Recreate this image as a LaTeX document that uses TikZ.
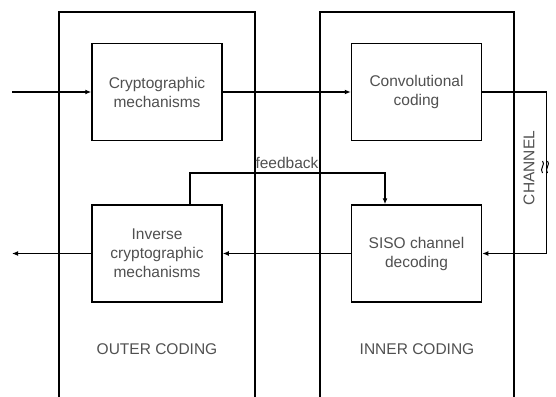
\documentclass[tikz,border=0pt]{standalone}
\usepackage{fontspec}
\setmainfont{Liberation Sans}
\usetikzlibrary{arrows.meta}
\definecolor{txtgray}{HTML}{505050}
\begin{document}
\begin{tikzpicture}[x=1pt,y=-1pt,
  blockbox/.style={draw=black,line width=1.5pt,minimum width=130pt,minimum height=97pt,
    inner sep=0pt,align=center,text=txtgray,font=\fontsize{15.5}{19}\selectfont},
  lbl/.style={text=txtgray,font=\fontsize{15.5}{19}\selectfont,inner sep=0pt},
  frame/.style={draw=black,line width=1.5pt},
  conn/.style={draw=black,line width=1.5pt,-{Latex[length=6pt,width=5pt]}},
  wave/.style={draw=black,line width=1pt}]
\useasboundingbox (0,0) rectangle (556,396);
% outer / inner coding frames (open at the bottom)
\coordinate (oBL) at (59,397);
\coordinate (oTL) at (59,12);
\coordinate (oTR) at (255,12);
\coordinate (oBR) at (255,397);
\coordinate (iBL) at (320,397);
\coordinate (iTL) at (320,12);
\coordinate (iTR) at (514,12);
\coordinate (iBR) at (514,397);
\draw[frame] (oBL) -- (oTL) -- (oTR) -- (oBR);
\draw[frame] (iBL) -- (iTL) -- (iTR) -- (iBR);
% blocks
\node[blockbox,fill=white] (crypto) at (157,92) {Cryptographic\\mechanisms};
\node[blockbox,fill=white] (conv) at (416.5,92) {Convolutional\\coding};
\node[blockbox,fill=white] (inv) at (157,253.5) {Inverse\\cryptographic\\mechanisms};
\node[blockbox,fill=white] (siso) at (416.5,253.5) {SISO channel\\decoding};
% labels
\node[lbl] (outer) at (157,349) {OUTER CODING};
\node[lbl] (inner) at (417,349) {INNER CODING};
\node[lbl] (fb) at (287,163) {feedback};
\node[lbl,rotate=90] (chan) at (529,168) {CHANNEL};
% connectors
\coordinate (in) at (12,92);
\coordinate (out) at (12,253.5);
\coordinate (chR) at (546.5,92);
\coordinate (chB) at (546.5,253.5);
\coordinate (fbL) at (190,173);
\coordinate (fbR) at (385,173);
\draw[conn] (in) -- (crypto.west);
\draw[conn] (crypto.east) -- (conv.west);
\draw[conn] (conv.east) -- (chR) -- (chB) -- (siso.east);
\draw[conn] (siso.west) -- (inv.east);
\draw[conn] (inv.west) -- (out);
\draw[conn] (inv.north -| fbL) -- (fbL) -- (fbR) -- (siso.north -| fbR);
% channel noise symbol (rotated approx sign)
\draw[wave] (542.5,161) .. controls (546,164) and (539,169) .. (542.5,173);
\draw[wave] (547.5,161) .. controls (551,164) and (544,169) .. (547.5,173);
\end{tikzpicture}
\end{document}
